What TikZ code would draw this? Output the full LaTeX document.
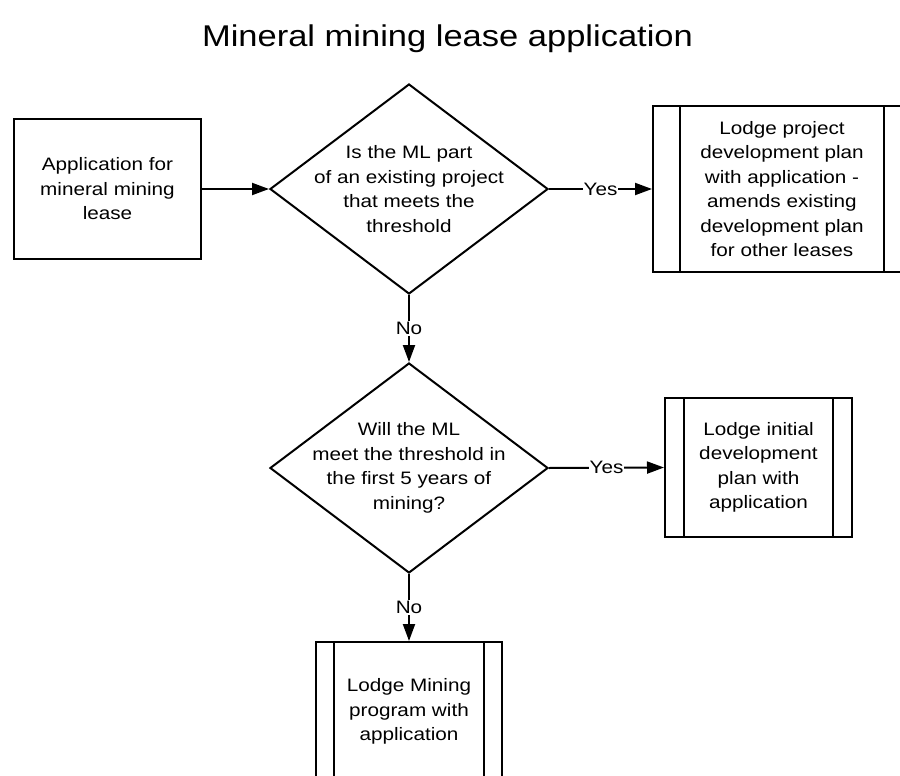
\documentclass[tikz,border=0pt]{standalone}
\usepackage{fontspec}
\setmainfont{Liberation Sans}[FakeStretch=1.15]
\usetikzlibrary{shapes.geometric,arrows.meta}

\begin{document}
\begin{tikzpicture}[
                x=1pt, y=-1pt,
                line width=2pt,
                every node/.style={font=\fontsize{18}{24.5}\selectfont, align=center},
                box/.style={rectangle, draw=black, minimum width=187pt, minimum height=140pt, inner sep=0pt},
                decision/.style={diamond, draw=black, aspect=1.32, minimum width=278pt, minimum height=210pt, inner sep=-22pt},
                subproc/.style={box, path picture={
                        \draw ([xshift=#1]path picture bounding box.north west) -- ([xshift=#1]path picture bounding box.south west);
                        \draw ([xshift=-#1]path picture bounding box.north east) -- ([xshift=-#1]path picture bounding box.south east);
                    }},
                arr/.style={-{Triangle[length=17pt,width=12pt]}},
                lbl/.style={fill=white, inner sep=1pt}
            ]
            % Page frame, boxes running off the edge are cut
            \useasboundingbox (0,0) rectangle (900,776);
            \clip (0,0) rectangle (900,776);

            % Heading
            \node[anchor=base, font=\fontsize{30}{36}\selectfont] (title) at (447.5,47) {Mineral mining lease application};

            % Starting point
            \node[box] (app) at (107.5,189) {Application for\\mineral mining\\lease};

            % First question and its yes branch
            \node[decision] (q1) at (409,189) {Is the ML part\\of an existing project\\that meets the\\threshold};
            \node[subproc=27pt, minimum width=258pt, minimum height=166pt] (plan) at (782,189)
                {Lodge project\\development plan\\with application -\\amends existing\\development plan\\for other leases};

            % Second question and its yes branch
            \node[decision] (q2) at (409,468) {Will the ML\\meet the threshold in\\the first 5 years of\\mining?};
            \node[subproc=19pt, minimum height=139pt] (initial) at (758.5,467.5)
                {Lodge initial\\development\\plan with\\application};

            % Fallback when neither applies
            \node[subproc=18pt, minimum width=186pt, minimum height=139pt] (mining) at (409,711.5)
                {Lodge Mining\\program with\\application};

            % Connectors
            \draw[arr] (app.east) -- (q1.west);
            \draw[arr] (q1.east) -- (plan.west) node[midway, lbl] {Yes};
            \draw[arr] (q1.south) -- (q2.north) node[midway, lbl] {No};
            \draw[arr] (q2.east) -- (initial.west) node[midway, lbl] {Yes};
            \draw[arr] (q2.south) -- (mining.north) node[midway, lbl] {No};

        \end{tikzpicture}
\end{document}
